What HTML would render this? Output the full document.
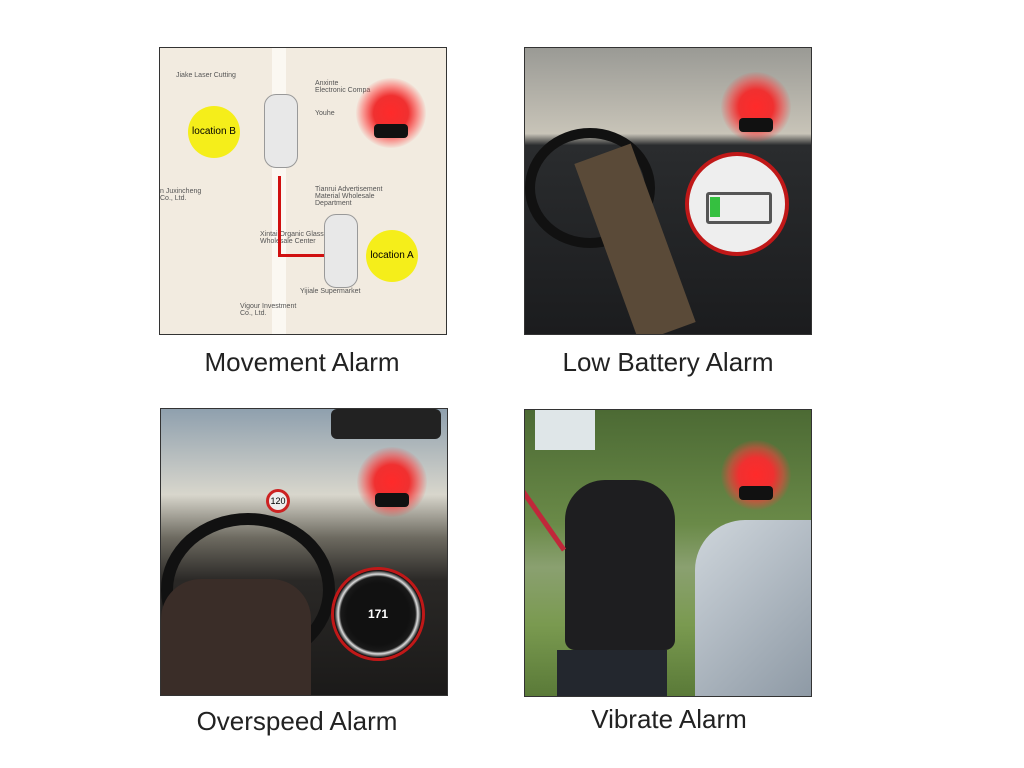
<!DOCTYPE html>
<html><head><meta charset="utf-8"><style>
body{margin:0;width:1024px;height:768px;background:#fff;position:relative;overflow:hidden;font-family:"Liberation Sans",sans-serif}
.panel{position:absolute;width:288px;height:288px;border:1px solid #333;overflow:hidden;box-sizing:border-box}
.cap{position:absolute;font-size:26px;color:#222;text-align:center;width:360px}
.siren{position:absolute;width:70px;height:70px;border-radius:50%;background:radial-gradient(circle,#ff2a2a 0%,#f03030 35%,rgba(255,60,60,.5) 55%,rgba(255,80,80,0) 72%)}
.siren:after{content:"";position:absolute;left:18px;top:46px;width:34px;height:14px;background:#111;border-radius:4px}
.lbl{position:absolute;font-size:7px;color:#555}
.abs{position:absolute}
</style></head><body>

<div class="panel" style="left:159px;top:47px;background:#f2ebe0">
  <div class="abs" style="left:112px;top:0;width:14px;height:288px;background:#fbf8f2"></div>
  <div class="lbl" style="left:16px;top:24px">Jiake Laser Cutting</div>
  <div class="lbl" style="left:155px;top:32px">Anxinte<br>Electronic Compa</div>
  <div class="lbl" style="left:155px;top:62px">Youhe</div>
  <div class="lbl" style="left:155px;top:138px">Tianrui Advertisement<br>Material Wholesale<br>Department</div>
  <div class="lbl" style="left:0;top:140px">n Juxincheng<br>Co., Ltd.</div>
  <div class="lbl" style="left:100px;top:183px">Xintai Organic Glass<br>Wholesale Center</div>
  <div class="lbl" style="left:140px;top:240px">Yijiale Supermarket</div>
  <div class="lbl" style="left:80px;top:255px">Vigour Investment<br>Co., Ltd.</div>
  <div class="abs" style="left:28px;top:58px;width:52px;height:52px;border-radius:50%;background:#f5ee1a;font-size:10px;line-height:52px;text-align:center">location B</div>
  <div class="abs" style="left:206px;top:182px;width:52px;height:52px;border-radius:50%;background:#f5ee1a;font-size:10px;line-height:52px;text-align:center">location A</div>
  <div class="abs" style="left:104px;top:46px;width:32px;height:72px;border-radius:12px;background:#e8e8e8;border:1px solid #999"></div>
  <div class="abs" style="left:164px;top:166px;width:32px;height:72px;border-radius:12px;background:#e8e8e8;border:1px solid #999"></div>
  <div class="abs" style="left:118px;top:128px;width:3px;height:80px;background:#d01010"></div>
  <div class="abs" style="left:118px;top:206px;width:46px;height:3px;background:#d01010"></div>
  <div class="siren" style="left:196px;top:30px"></div>
</div>
<div class="cap" style="left:122px;top:347px">Movement Alarm</div>

<div class="panel" style="left:524px;top:47px;background:linear-gradient(#9a9a95 0%,#c8c4b8 30%,#2a2c2e 34%,#1b1c1e 100%)">
  <div class="abs" style="left:0;top:80px;width:110px;height:100px;border:10px solid #111;border-radius:50%"></div>
  <div class="abs" style="left:80px;top:100px;width:60px;height:190px;background:#5a4a38;transform:rotate(-20deg)"></div>
  <div class="abs" style="left:160px;top:104px;width:104px;height:104px;border-radius:50%;border:4px solid #c01818;background:#eee;box-sizing:border-box"></div>
  <div class="abs" style="left:181px;top:144px;width:60px;height:26px;border:3px solid #555;border-radius:3px"></div>
  <div class="abs" style="left:185px;top:149px;width:10px;height:20px;background:#35c040"></div>
  <div class="siren" style="left:196px;top:24px"></div>
</div>
<div class="cap" style="left:488px;top:347px">Low Battery Alarm</div>

<div class="panel" style="left:160px;top:408px;background:linear-gradient(#8fa0ae 0%,#d8d6cc 30%,#6d6a60 45%,#2a2826 60%,#1b1a19 100%)">
  <div class="abs" style="left:170px;top:0;width:110px;height:30px;background:#222;border-radius:6px"></div>
  <div class="abs" style="left:105px;top:80px;width:24px;height:24px;border-radius:50%;border:3px solid #c22;background:#eee;font-size:9px;line-height:18px;text-align:center;box-sizing:border-box">120</div>
  <div class="abs" style="left:0;top:104px;width:150px;height:130px;border:12px solid #111;border-radius:50%"></div>
  <div class="abs" style="left:0;top:170px;width:150px;height:118px;background:#3a2d28;border-radius:40px 40px 0 0"></div>
  <div class="abs" style="left:170px;top:158px;width:94px;height:94px;border-radius:50%;background:radial-gradient(#111 50%,#1a1a1a 60%,#ddd 64%,#111 70%);border:3px solid #c01818;box-sizing:border-box;color:#fff;font-size:12px;font-weight:bold;text-align:center;line-height:88px">171</div>
  <div class="siren" style="left:196px;top:38px"></div>
</div>
<div class="cap" style="left:117px;top:706px">Overspeed Alarm</div>

<div class="panel" style="left:524px;top:409px;background:linear-gradient(#4c6a34 0%,#6a8a48 40%,#8aa070 55%,#7a9a50 75%,#5a7a38 100%)">
  <div class="abs" style="left:10px;top:0;width:60px;height:40px;background:#dfe6e8"></div>
  <div class="abs" style="left:40px;top:70px;width:110px;height:170px;background:#1e1e20;border-radius:40px 40px 10px 10px"></div>
  <div class="abs" style="left:32px;top:240px;width:110px;height:48px;background:#23272e"></div>
  <div class="abs" style="left:5px;top:40px;width:5px;height:110px;background:#c0283a;transform:rotate(-35deg)"></div>
  <div class="abs" style="left:170px;top:110px;width:130px;height:190px;background:linear-gradient(135deg,#cfd6dc,#8894a0);border-radius:50px 0 0 0"></div>
  <div class="siren" style="left:196px;top:30px"></div>
</div>
<div class="cap" style="left:489px;top:704px">Vibrate Alarm</div>

</body></html>
